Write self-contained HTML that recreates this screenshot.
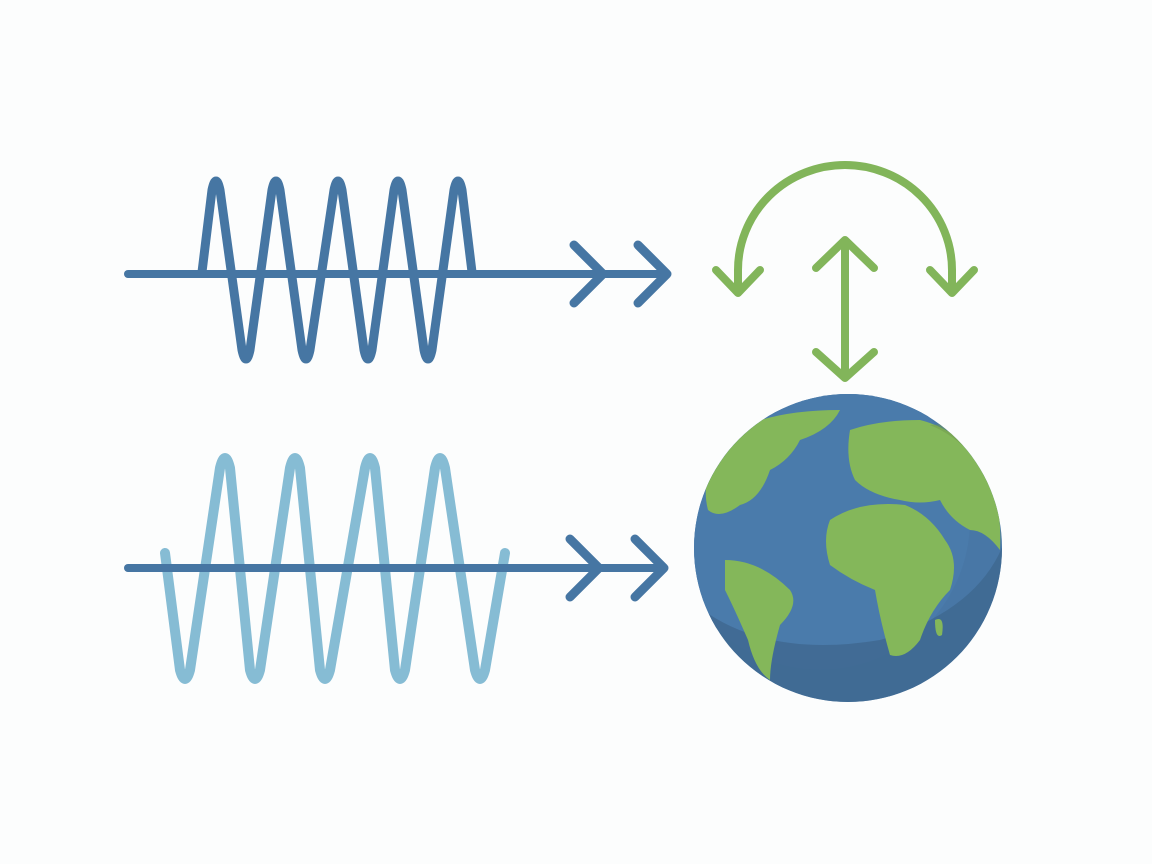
<!DOCTYPE html>
<html><head><meta charset="utf-8"><style>html,body{margin:0;padding:0;background:#fcfdfd;}svg{display:block}</style></head>
<body>
<svg width="1152" height="864" viewBox="0 0 1152 864" xmlns="http://www.w3.org/2000/svg">
<rect width="1152" height="864" fill="#fcfdfd"/>
<g fill="none" stroke-linecap="round" stroke-linejoin="round">
<!-- top wave -->
<path d="M202 272 L212 190 Q216 172 220 190 L242 350 Q246 368 250 350 L272 190 Q276 172 280 190 L302 350 Q306 368 310 350 L334 190 Q338 172 342 190 L364 350 Q368 368 372 350 L394 190 Q398 172 402 190 L424 350 Q428 368 432 350 L454 190 Q458 172 462 190 L472 272" stroke="#4676a3" stroke-width="9"/>
<path d="M128 274 L666 274" stroke="#4676a3" stroke-width="8"/>
<path d="M574 245 L603 274 L574 303 M638 245 L667 274 L638 303" stroke="#4676a3" stroke-width="9"/>
<!-- bottom wave -->
<path d="M165 553 L180 670 Q185 688 190 670 L220 468 Q225 448 230 468 L250 670 Q255 688 260 670 L290 468 Q295 448 300 468 L320 670 Q325 688 330 670 L365 468 Q370 448 375 468 L395 670 Q400 688 405 670 L435 468 Q440 448 445 468 L475 670 Q480 688 485 670 L505 553" stroke="#86bcd4" stroke-width="10"/>
<path d="M128 568 L664 568" stroke="#4676a3" stroke-width="8"/>
<path d="M570 539 L599 568 L570 597 M635 539 L664 568 L635 597" stroke="#4676a3" stroke-width="9"/>
<!-- green arrows -->
<path d="M738 290 L738 270 A107 105 0 0 1 952 270 L952 290" stroke="#82b55a" stroke-width="8"/>
<path d="M716 270 L738 293 L760 270 M930 270 L952 293 L974 270" stroke="#82b55a" stroke-width="8"/>
<path d="M845 242 L845 376" stroke="#82b55a" stroke-width="8"/>
<path d="M816 268 L845 240 L874 268 M816 352 L845 378 L874 352" stroke="#82b55a" stroke-width="8"/>
</g>
<!-- globe -->
<defs><clipPath id="g"><circle cx="848" cy="548" r="154"/></clipPath></defs>
<circle cx="848" cy="548" r="154" fill="#4877a6"/>
<g clip-path="url(#g)">
<circle cx="820" cy="520" r="150" fill="#4a7bab"/>
<path d="M690 600 Q760 660 880 640 Q980 610 1005 540 L1005 720 L690 720Z" fill="#3e6890" opacity="0.8"/>
<!-- north america -->
<path d="M720 440 Q760 410 840 410 Q830 430 800 440 Q790 460 770 470 Q760 500 740 505 Q720 520 708 510 Q700 480 720 440Z" fill="#84b75a"/>
<!-- south america -->
<path d="M725 560 Q760 560 790 590 Q800 605 780 625 Q770 660 770 680 Q755 670 748 640 Q735 610 725 590Z" fill="#84b75a"/>
<!-- europe / asia -->
<path d="M850 430 Q880 420 920 420 Q960 430 990 470 Q1002 510 1000 550 Q985 530 970 530 Q950 520 940 500 Q920 505 900 500 Q870 495 855 480 Q845 460 850 430Z" fill="#84b75a"/>
<!-- africa -->
<path d="M830 520 Q860 500 905 505 Q930 515 945 540 Q960 560 950 590 Q930 610 920 640 Q905 660 890 655 Q880 620 875 590 Q850 580 830 565 Q822 540 830 520Z" fill="#84b75a"/>
<path d="M935 620 Q945 615 942 635 Q935 640 935 620Z" fill="#84b75a"/>
<path d="M780 420 Q800 410 815 420 Q800 432 780 420Z" fill="#84b75a"/>
<path d="M930 425 Q990 450 1005 530 L1005 420Z" fill="#6f9a4d" opacity="0.5"/>
</g>
</svg>
</body></html>
